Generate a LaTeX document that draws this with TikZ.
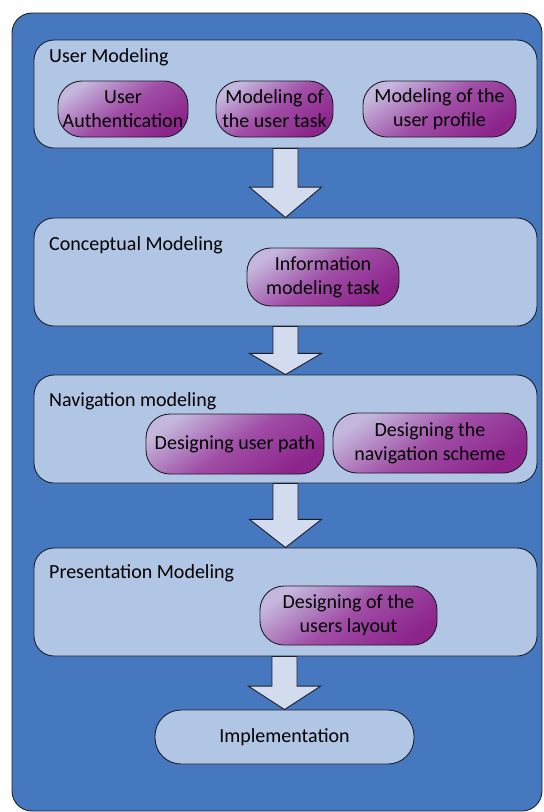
\documentclass[tikz,border=0pt]{standalone}
\usepackage{fontspec}
\setmainfont{Carlito}
\usepackage{tikz}
\usetikzlibrary{calc}

\definecolor{frameblue}{RGB}{70,120,191}
\definecolor{stageblue}{RGB}{177,197,228}
\definecolor{arrowblue}{RGB}{210,220,238}
\definecolor{plumlight}{RGB}{196,182,220}
\definecolor{plummid}{RGB}{160,78,166}
\definecolor{plumdark}{RGB}{140,36,140}
\definecolor{edgegray}{RGB}{30,30,40}

\begin{document}
\begin{tikzpicture}[
  x=1pt, y=-1pt,
  every node/.style={font=\fontsize{20}{24}\selectfont, inner sep=0pt},
  frame/.style={draw=edgegray, line width=0.9pt, fill=frameblue, rounded corners=20pt},
  stage/.style={draw=edgegray, line width=0.9pt, fill=stageblue, rounded corners=20pt,
                minimum width=503pt, minimum height=108pt},
  task/.style={draw=edgegray, line width=0.9pt, rounded corners=24pt, align=center,
               top color=plumlight, bottom color=plumdark, middle color=plummid,
               shading angle=35},
  stagelbl/.style={anchor=west},
  blockarrow/.style={draw=edgegray, line width=0.9pt, fill=arrowblue}
]
\useasboundingbox (0,0) rectangle (544,812);

% background panel
\node[frame, minimum width=530pt, minimum height=798pt] (panel) at (277,412) {};

% the four modeling stages
\node[stage] (um) at (285.5,94) {};
\node[stage] (cm) at (285.5,272) {};
\node[stage] (nm) at (285.5,429) {};
\node[stage] (pm) at (285.5,602) {};
\node[stage, minimum width=259pt, minimum height=54pt, rounded corners=26pt]
  (impl) at (284.5,737) {Implementation};

\node[stagelbl] (umlbl) at (49,57) {User Modeling};
\node[stagelbl] (cmlbl) at (49,245) {Conceptual Modeling};
\node[stagelbl] (nmlbl) at (49,401) {Navigation modeling};
\node[stagelbl] (pmlbl) at (49,573) {Presentation Modeling};

% tasks inside each stage
\node[task, minimum width=130pt, minimum height=56pt] (auth) at (123,109) {User\\Authentication};
\node[task, minimum width=117pt, minimum height=56pt] (utask) at (274.5,109) {Modeling of\\the user task};
\node[task, minimum width=153pt, minimum height=56pt] (uprof) at (439.5,109) {Modeling of the\\user profile};
\node[task, minimum width=152pt, minimum height=58pt] (info) at (323,277) {Information\\modeling task};
\node[task, minimum width=178pt, minimum height=60pt] (upath) at (235,444) {Designing user path};
\node[task, minimum width=194pt, minimum height=60pt] (navsch) at (430,443) {Designing the\\navigation scheme};
\node[task, minimum width=177pt, minimum height=59pt] (layout) at (348.5,615.5) {Designing of the\\users layout};

% fat arrows between stages
\foreach \a/\b in {um/cm, cm/nm, nm/pm, pm/impl}
  \draw[blockarrow] let \p1=(\a.south), \p2=(\b.north), \n1={0.44*(\y1-\y2)} in
    (\x2,\y2) -- (\x2-36pt,\y2+\n1) -- (\x2-12.5pt,\y2+\n1) -- (\x2-12.5pt,\y1)
    -- (\x2+12.5pt,\y1) -- (\x2+12.5pt,\y2+\n1) -- (\x2+36pt,\y2+\n1) -- cycle;
\end{tikzpicture}
\end{document}
